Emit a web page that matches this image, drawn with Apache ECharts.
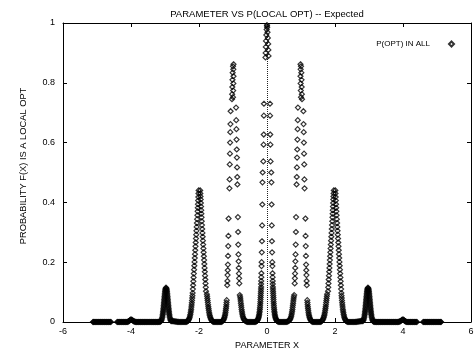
<!DOCTYPE html>
<html><head><meta charset="utf-8">
<script src="https://cdn.jsdelivr.net/npm/echarts@6/dist/echarts.min.js"></script>
<style>html,body{margin:0;padding:0;background:#fff}#c{width:475px;height:348px}</style>
</head><body><div id="c"></div>
<script>
const TITLE = 'PARAMETER VS P(LOCAL OPT) -- Expected';
const X_NAME = 'PARAMETER X';
const Y_NAME = 'PROBABILITY F(X) IS A LOCAL OPT';
const SERIES_NAME = 'P(OPT) IN ALL';
const X_TICKS = [-6,-4,-2,0,2,4,6];
const Y_TICKS = [0,0.2,0.4,0.6,0.8,1];

// centre peak (x = 0)
const CENTER = [[0,0.993],[0,0.99],[0.005,0.985],[-0.01,0.978],[0.015,0.969],[-0.02,0.96],[0.025,0.95],[-0.03,0.94],[0.035,0.93],[-0.035,0.92],[0.04,0.91],[-0.04,0.9],[0.045,0.89],[-0.045,0.885]];
const P0_R = [[0.088,0.73],[0.09,0.69],[0.095,0.627],[0.1,0.593],[0.105,0.537],[0.125,0.5],[0.13,0.467],[0.135,0.393],[0.14,0.323],[0.145,0.27],[0.15,0.233],[0.155,0.2],[0.158,0.187],[0.162,0.163],[0.165,0.15],[0.168,0.137],[0.17,0.127]];
const P0_L = [[-0.09,0.73],[-0.092,0.69],[-0.096,0.627],[-0.1,0.593],[-0.108,0.537],[-0.128,0.5],[-0.133,0.467],[-0.138,0.393],[-0.143,0.323],[-0.148,0.27],[-0.153,0.233],[-0.158,0.2],[-0.161,0.187],[-0.165,0.163],[-0.168,0.15],[-0.171,0.137],[-0.174,0.127]];

// right half
const V05_R = [[0.173,0.117],[0.176,0.11],[0.179,0.103],[0.182,0.096],[0.185,0.089],[0.188,0.082],[0.191,0.075],[0.194,0.068],[0.198,0.061],[0.202,0.054],[0.206,0.048],[0.211,0.042],[0.216,0.036],[0.222,0.031],[0.228,0.026],[0.235,0.021],[0.243,0.017],[0.252,0.013],[0.262,0.01],[0.274,0.007],[0.288,0.0045],[0.305,0.0025],[0.325,0.001],[0.35,0.0003],[0.375,0],[0.4,0],[0.425,0],[0.45,0],[0.475,0],[0.5,0],[0.525,0],[0.55,0],[0.575,0.0003],[0.6,0.001],[0.625,0.0025],[0.648,0.0045],[0.668,0.007],[0.685,0.01],[0.699,0.014],[0.711,0.019],[0.722,0.024],[0.731,0.03],[0.739,0.036],[0.747,0.042],[0.754,0.049],[0.761,0.056],[0.768,0.063],[0.775,0.07],[0.782,0.077],[0.789,0.084]];
const P1_TOP_R = [[0.985,0.862],[1,0.855],[0.99,0.845],[1.01,0.834],[0.985,0.822],[1.015,0.81],[0.99,0.798],[1.02,0.786],[0.995,0.774],[1.025,0.762],[1,0.752],[1.03,0.745]];
const P1_IN_R = [[0.91,0.717],[0.905,0.675],[0.9,0.645],[0.895,0.61],[0.89,0.577],[0.885,0.55],[0.88,0.517],[0.875,0.485],[0.87,0.46],[0.855,0.351],[0.85,0.301],[0.845,0.259],[0.84,0.226],[0.835,0.203],[0.83,0.181],[0.825,0.162],[0.82,0.146],[0.815,0.129],[0.8,0.09]];
const P1_OUT_R = [[1.07,0.705],[1.075,0.662],[1.08,0.635],[1.085,0.6],[1.09,0.563],[1.095,0.527],[1.1,0.477],[1.105,0.447],[1.13,0.346],[1.135,0.288],[1.14,0.254],[1.145,0.221],[1.15,0.192],[1.155,0.173],[1.16,0.157],[1.165,0.137],[1.17,0.123],[1.185,0.073]];
const V15_R = [[1.19,0.065],[1.195,0.058],[1.2,0.051],[1.206,0.045],[1.213,0.039],[1.22,0.033],[1.228,0.027],[1.237,0.022],[1.247,0.017],[1.258,0.013],[1.271,0.009],[1.286,0.006],[1.303,0.0035],[1.323,0.0015],[1.346,0.0005],[1.37,0],[1.395,0],[1.42,0],[1.445,0],[1.47,0],[1.495,0],[1.52,0],[1.545,0],[1.57,0.0005],[1.593,0.0015],[1.613,0.0035],[1.631,0.006],[1.647,0.009],[1.661,0.013],[1.673,0.017],[1.684,0.022],[1.694,0.027],[1.703,0.033],[1.711,0.039],[1.719,0.045],[1.726,0.051],[1.733,0.058],[1.74,0.065],[1.747,0.072],[1.754,0.079],[1.761,0.086],[1.768,0.093]];
const P2_R = [[1.965,0.44],[1.96,0.43],[1.955,0.42],[1.95,0.41],[1.945,0.398],[1.94,0.386],[1.935,0.374],[1.93,0.362],[1.925,0.35],[1.92,0.337],[1.913,0.324],[1.906,0.311],[1.899,0.298],[1.892,0.285],[1.885,0.272],[1.878,0.259],[1.871,0.246],[1.864,0.233],[1.857,0.22],[1.85,0.207],[1.843,0.194],[1.836,0.181],[1.829,0.168],[1.822,0.155],[1.815,0.142],[1.808,0.129],[1.801,0.116],[1.794,0.103],
  [2.01,0.44],[2.015,0.43],[2.02,0.418],[2.025,0.406],[2.03,0.394],[2.035,0.382],[2.04,0.37],[2.047,0.357],[2.054,0.344],[2.061,0.331],[2.068,0.318],[2.075,0.305],[2.082,0.292],[2.089,0.279],[2.096,0.266],[2.103,0.253],[2.11,0.24],[2.117,0.227],[2.124,0.214],[2.131,0.201],[2.138,0.188],[2.145,0.175],[2.152,0.162],[2.159,0.149],[2.166,0.136],[2.173,0.123],[2.18,0.11],[2.187,0.097]];
const V25_R = [[2.193,0.088],[2.199,0.08],[2.205,0.072],[2.211,0.064],[2.217,0.057],[2.224,0.05],[2.231,0.043],[2.238,0.037],[2.246,0.031],[2.255,0.025],[2.265,0.02],[2.276,0.015],[2.288,0.011],[2.302,0.0075],[2.318,0.0045],[2.336,0.0025],[2.357,0.001],[2.38,0.0003],[2.405,0],[2.43,0],[2.455,0],[2.48,0],[2.505,0],[2.53,0],[2.555,0],[2.58,0],[2.605,0.0003],[2.63,0.0006],[2.655,0.001],[2.68,0.0014],[2.705,0.0018],[2.73,0.0022],[2.755,0.0026],[2.78,0.003],[2.8,0.0035]];
const P3_R = [[2.97,0.115],[2.957,0.112],[2.95,0.108],[2.945,0.104],[2.941,0.1],[2.936,0.095],[2.931,0.09],[2.927,0.085],[2.923,0.08],[2.919,0.075],[2.915,0.07],[2.911,0.065],[2.907,0.06],[2.903,0.055],[2.899,0.05],[2.895,0.045],[2.89,0.04],[2.885,0.035],[2.88,0.03],[2.874,0.025],[2.867,0.02],[2.859,0.015],[2.848,0.01],[2.836,0.006],[2.821,0.003],
  [2.983,0.112],[2.99,0.108],[2.995,0.104],[2.999,0.1],[3.004,0.095],[3.009,0.09],[3.013,0.085],[3.017,0.08],[3.021,0.075],[3.025,0.07],[3.029,0.065],[3.033,0.06],[3.037,0.055],[3.041,0.05],[3.045,0.045],[3.05,0.04],[3.055,0.035],[3.06,0.03],[3.066,0.025],[3.073,0.02],[3.081,0.015],[3.092,0.01],[3.104,0.006],[3.119,0.003]];
const TAIL_R = [[3.135,0.0015],[3.15,0.001],[3.17,0.0006],[3.19,0.0002],[3.21,0],[3.23,0],[3.25,0],[3.27,0],[3.29,0],[3.31,0],[3.33,0],[3.35,0],[3.37,0],[3.39,0],[3.41,0],[3.43,0],[3.45,0],[3.47,0],[3.49,0],[3.51,0],[3.53,0],[3.55,0],[3.57,0],[3.59,0],[3.61,0],[3.63,0],[3.65,0],[3.67,0],[3.69,0],[3.71,0],[3.73,0],[3.75,0],[3.77,0],[3.79,0],[3.81,0],[3.83,0],[3.85,0],[3.87,0.0005],[3.89,0.001],[3.91,0.002],[3.93,0.003],[3.95,0.005],[3.97,0.007],[3.99,0.008],[4.01,0.008],[4.03,0.006],[4.05,0.004],[4.07,0.002],[4.09,0.001],[4.11,0],[4.13,0],[4.15,0],[4.17,0],[4.19,0],[4.21,0],[4.23,0],[4.25,0],[4.27,0],[4.29,0],[4.31,0],[4.33,0],[4.35,0],[4.37,0],[4.39,0],[4.41,0],[4.59,0],[4.61,0],[4.63,0],[4.65,0],[4.67,0],[4.69,0],[4.71,0],[4.73,0],[4.75,0],[4.77,0],[4.79,0],[4.81,0],[4.83,0],[4.85,0],[4.87,0],[4.89,0],[4.91,0],[4.93,0],[4.95,0],[4.97,0],[4.99,0],[5.01,0],[5.03,0],[5.05,0],[5.07,0],[5.09,0],[5.11,0],[5.12,0]];

// left half
const V05_L = [[-0.173,0.117],[-0.176,0.11],[-0.179,0.103],[-0.182,0.096],[-0.185,0.089],[-0.188,0.082],[-0.191,0.075],[-0.194,0.068],[-0.198,0.061],[-0.202,0.054],[-0.206,0.048],[-0.211,0.042],[-0.216,0.036],[-0.222,0.031],[-0.228,0.026],[-0.235,0.021],[-0.243,0.017],[-0.252,0.013],[-0.262,0.01],[-0.274,0.007],[-0.288,0.0045],[-0.305,0.0025],[-0.325,0.001],[-0.35,0.0003],[-0.375,0],[-0.4,0],[-0.425,0],[-0.45,0],[-0.475,0],[-0.5,0],[-0.525,0],[-0.55,0],[-0.575,0.0003],[-0.6,0.001],[-0.625,0.0025],[-0.648,0.0045],[-0.668,0.007],[-0.685,0.01],[-0.699,0.014],[-0.711,0.019],[-0.722,0.024],[-0.731,0.03],[-0.739,0.036],[-0.747,0.042],[-0.754,0.049],[-0.761,0.056],[-0.768,0.063],[-0.775,0.07],[-0.782,0.077],[-0.789,0.084]];
const P1_TOP_L = [[-0.985,0.862],[-1,0.855],[-0.99,0.845],[-1.01,0.834],[-0.985,0.822],[-1.015,0.81],[-0.99,0.798],[-1.02,0.786],[-0.995,0.774],[-1.025,0.762],[-1,0.752],[-1.03,0.745]];
const P1_IN_L = [[-0.91,0.717],[-0.905,0.675],[-0.9,0.645],[-0.895,0.61],[-0.89,0.577],[-0.885,0.55],[-0.88,0.517],[-0.875,0.485],[-0.87,0.46],[-0.855,0.351],[-0.85,0.301],[-0.845,0.259],[-0.84,0.226],[-0.835,0.203],[-0.83,0.181],[-0.825,0.162],[-0.82,0.146],[-0.815,0.129],[-0.8,0.09]];
const P1_OUT_L = [[-1.07,0.705],[-1.075,0.662],[-1.08,0.635],[-1.085,0.6],[-1.09,0.563],[-1.095,0.527],[-1.1,0.477],[-1.105,0.447],[-1.13,0.346],[-1.135,0.288],[-1.14,0.254],[-1.145,0.221],[-1.15,0.192],[-1.155,0.173],[-1.16,0.157],[-1.165,0.137],[-1.17,0.123],[-1.185,0.073]];
const V15_L = [[-1.19,0.065],[-1.195,0.058],[-1.2,0.051],[-1.206,0.045],[-1.213,0.039],[-1.22,0.033],[-1.228,0.027],[-1.237,0.022],[-1.247,0.017],[-1.258,0.013],[-1.271,0.009],[-1.286,0.006],[-1.303,0.0035],[-1.323,0.0015],[-1.346,0.0005],[-1.37,0],[-1.395,0],[-1.42,0],[-1.445,0],[-1.47,0],[-1.495,0],[-1.52,0],[-1.545,0],[-1.57,0.0005],[-1.593,0.0015],[-1.613,0.0035],[-1.631,0.006],[-1.647,0.009],[-1.661,0.013],[-1.673,0.017],[-1.684,0.022],[-1.694,0.027],[-1.703,0.033],[-1.711,0.039],[-1.719,0.045],[-1.726,0.051],[-1.733,0.058],[-1.74,0.065],[-1.747,0.072],[-1.754,0.079],[-1.761,0.086],[-1.768,0.093]];
const P2_L = [[-1.965,0.44],[-1.96,0.43],[-1.955,0.42],[-1.95,0.41],[-1.945,0.398],[-1.94,0.386],[-1.935,0.374],[-1.93,0.362],[-1.925,0.35],[-1.92,0.337],[-1.913,0.324],[-1.906,0.311],[-1.899,0.298],[-1.892,0.285],[-1.885,0.272],[-1.878,0.259],[-1.871,0.246],[-1.864,0.233],[-1.857,0.22],[-1.85,0.207],[-1.843,0.194],[-1.836,0.181],[-1.829,0.168],[-1.822,0.155],[-1.815,0.142],[-1.808,0.129],[-1.801,0.116],[-1.794,0.103],
  [-2.01,0.44],[-2.015,0.43],[-2.02,0.418],[-2.025,0.406],[-2.03,0.394],[-2.035,0.382],[-2.04,0.37],[-2.047,0.357],[-2.054,0.344],[-2.061,0.331],[-2.068,0.318],[-2.075,0.305],[-2.082,0.292],[-2.089,0.279],[-2.096,0.266],[-2.103,0.253],[-2.11,0.24],[-2.117,0.227],[-2.124,0.214],[-2.131,0.201],[-2.138,0.188],[-2.145,0.175],[-2.152,0.162],[-2.159,0.149],[-2.166,0.136],[-2.173,0.123],[-2.18,0.11],[-2.187,0.097]];
const V25_L = [[-2.193,0.088],[-2.199,0.08],[-2.205,0.072],[-2.211,0.064],[-2.217,0.057],[-2.224,0.05],[-2.231,0.043],[-2.238,0.037],[-2.246,0.031],[-2.255,0.025],[-2.265,0.02],[-2.276,0.015],[-2.288,0.011],[-2.302,0.0075],[-2.318,0.0045],[-2.336,0.0025],[-2.357,0.001],[-2.38,0.0003],[-2.405,0],[-2.43,0],[-2.455,0],[-2.48,0],[-2.505,0],[-2.53,0],[-2.555,0],[-2.58,0],[-2.605,0.0003],[-2.63,0.0006],[-2.655,0.001],[-2.68,0.0014],[-2.705,0.0018],[-2.73,0.0022],[-2.755,0.0026],[-2.78,0.003],[-2.8,0.0035]];
const P3_L = [[-2.97,0.115],[-2.957,0.112],[-2.95,0.108],[-2.945,0.104],[-2.941,0.1],[-2.936,0.095],[-2.931,0.09],[-2.927,0.085],[-2.923,0.08],[-2.919,0.075],[-2.915,0.07],[-2.911,0.065],[-2.907,0.06],[-2.903,0.055],[-2.899,0.05],[-2.895,0.045],[-2.89,0.04],[-2.885,0.035],[-2.88,0.03],[-2.874,0.025],[-2.867,0.02],[-2.859,0.015],[-2.848,0.01],[-2.836,0.006],[-2.821,0.003],
  [-2.983,0.112],[-2.99,0.108],[-2.995,0.104],[-2.999,0.1],[-3.004,0.095],[-3.009,0.09],[-3.013,0.085],[-3.017,0.08],[-3.021,0.075],[-3.025,0.07],[-3.029,0.065],[-3.033,0.06],[-3.037,0.055],[-3.041,0.05],[-3.045,0.045],[-3.05,0.04],[-3.055,0.035],[-3.06,0.03],[-3.066,0.025],[-3.073,0.02],[-3.081,0.015],[-3.092,0.01],[-3.104,0.006],[-3.119,0.003]];
const TAIL_L = [[-3.135,0.0015],[-3.15,0.001],[-3.17,0.0006],[-3.19,0.0002],[-3.21,0],[-3.23,0],[-3.25,0],[-3.27,0],[-3.29,0],[-3.31,0],[-3.33,0],[-3.35,0],[-3.37,0],[-3.39,0],[-3.41,0],[-3.43,0],[-3.45,0],[-3.47,0],[-3.49,0],[-3.51,0],[-3.53,0],[-3.55,0],[-3.57,0],[-3.59,0],[-3.61,0],[-3.63,0],[-3.65,0],[-3.67,0],[-3.69,0],[-3.71,0],[-3.73,0],[-3.75,0],[-3.77,0],[-3.79,0],[-3.81,0],[-3.83,0],[-3.85,0],[-3.87,0.0005],[-3.89,0.001],[-3.91,0.002],[-3.93,0.003],[-3.95,0.005],[-3.97,0.007],[-3.99,0.008],[-4.01,0.008],[-4.03,0.006],[-4.05,0.004],[-4.07,0.002],[-4.09,0.001],[-4.11,0],[-4.13,0],[-4.15,0],[-4.17,0],[-4.19,0],[-4.21,0],[-4.23,0],[-4.25,0],[-4.27,0],[-4.29,0],[-4.31,0],[-4.33,0],[-4.35,0],[-4.37,0],[-4.39,0],[-4.41,0],[-4.59,0],[-4.61,0],[-4.63,0],[-4.65,0],[-4.67,0],[-4.69,0],[-4.71,0],[-4.73,0],[-4.75,0],[-4.77,0],[-4.79,0],[-4.81,0],[-4.83,0],[-4.85,0],[-4.87,0],[-4.89,0],[-4.91,0],[-4.93,0],[-4.95,0],[-4.97,0],[-4.99,0],[-5.01,0],[-5.03,0],[-5.05,0],[-5.07,0],[-5.09,0],[-5.11,0],[-5.12,0]];

const POINTS = [].concat(
  TAIL_L, P3_L, V25_L, P2_L, V15_L, P1_OUT_L, P1_IN_L, P1_TOP_L, V05_L, P0_L,
  CENTER,
  P0_R, V05_R, P1_TOP_R, P1_IN_R, P1_OUT_R, V15_R, P2_R, V25_R, P3_R, TAIL_R
);

const FONT = '"Liberation Sans", Arial, Helvetica, sans-serif';
const chart = echarts.init(document.getElementById('c'), null, {renderer: 'canvas'});
const axisLine = {show: true, onZero: false, lineStyle: {color: '#000', width: 1}};
const axisTick = {show: true, inside: true, length: 4, lineStyle: {color: '#000', width: 1}};
const X_MIN = X_TICKS[0], X_MAX = X_TICKS[X_TICKS.length - 1], X_INT = X_TICKS[1] - X_TICKS[0];
const Y_MIN = Y_TICKS[0], Y_MAX = Y_TICKS[Y_TICKS.length - 1], Y_INT = Y_TICKS[1] - Y_TICKS[0];

chart.setOption({
  animation: false,
  backgroundColor: '#fff',
  grid: {left: 63, top: 23, right: 4, bottom: 26, containLabel: false, outerBoundsMode: 'none'},
  xAxis: [
    {type: 'value', position: 'bottom', min: X_MIN, max: X_MAX, interval: X_INT,
     axisLine, axisTick, splitLine: {show: false},
     axisLabel: {color: '#000', fontSize: 9, fontFamily: FONT, margin: 5},
     name: X_NAME, nameLocation: 'middle', nameGap: 17,
     nameTextStyle: {color: '#000', fontSize: 9, fontFamily: FONT}},
    {type: 'value', position: 'top', min: X_MIN, max: X_MAX, interval: X_INT,
     axisLine, axisTick, splitLine: {show: false}, axisLabel: {show: false}}
  ],
  yAxis: [
    {type: 'value', position: 'left', min: Y_MIN, max: Y_MAX, interval: Y_INT,
     axisLine, axisTick, splitLine: {show: false},
     axisLabel: {color: '#000', fontSize: 9, fontFamily: FONT, margin: 8}},
    {type: 'value', position: 'right', min: Y_MIN, max: Y_MAX, interval: Y_INT,
     axisLine, axisTick, splitLine: {show: false}, axisLabel: {show: false}}
  ],
  legend: {
    show: true, right: 20, top: 40, padding: 0, align: 'right',
    itemWidth: 5, itemHeight: 5, selectedMode: false,
    textStyle: {color: '#000', fontSize: 8, fontFamily: FONT, padding: [0, 14, 0, 0]},
    data: [{name: SERIES_NAME, icon: 'diamond'}]
  },
  graphic: [
    {type: 'text', x: 267, y: 14, silent: true,
     style: {text: TITLE, fill: '#000', fontSize: 9.5, fontFamily: FONT, align: 'center', verticalAlign: 'middle'}},
    {type: 'text', x: 23, y: 166, rotation: Math.PI / 2, silent: true,
     style: {text: Y_NAME, fill: '#000', fontSize: 9.3, fontFamily: FONT, align: 'center', verticalAlign: 'middle'}}
  ],
  series: [{
    type: 'scatter', name: SERIES_NAME, data: POINTS,
    xAxisIndex: 0, yAxisIndex: 0,
    symbol: 'diamond', symbolSize: 5,
    itemStyle: {color: 'rgba(0,0,0,0)', borderColor: '#000', borderWidth: 1.2},
    emphasis: {disabled: true}, silent: true,
    markLine: {
      silent: true, symbol: ['none', 'none'], label: {show: false},
      lineStyle: {type: 'dotted', color: '#222', width: 1},
      data: [{xAxis: 0}]
    }
  }]
});
</script>
</body></html>
